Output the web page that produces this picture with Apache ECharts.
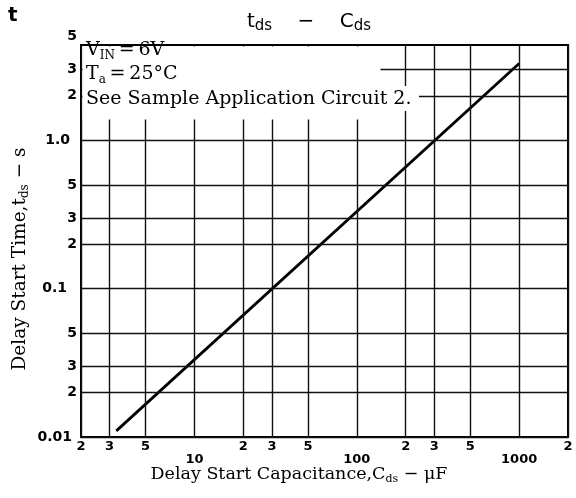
<!DOCTYPE html>
<html>
<head>
<meta charset="utf-8">
<script src="https://cdn.jsdelivr.net/npm/echarts@6/dist/echarts.min.js"></script>
<style>
  html, body { margin: 0; padding: 0; background: #fff; }
  #chart { width: 576px; height: 498px; }
</style>
</head>
<body>
<div id="chart"></div>
<script>
// Delay start time versus delay start capacitance (log-log)
const capacitance = [3.3, 1000];   // µF
const delayTime = [0.011, 3.3];    // s

// grid positions and their printed labels
const xTickValues = [2, 3, 5, 10, 20, 30, 50, 100, 200, 300, 500, 1000, 2000];
const xTickLabels = ['2', '3', '5', '10', '2', '3', '5', '100', '2', '3', '5', '1000', '2'];
const yTickValues = [0.01, 0.02, 0.03, 0.05, 0.1, 0.2, 0.3, 0.5, 1, 2, 3];
const yTickLabels = ['0.01', '2', '3', '5', '0.1', '2', '3', '5', '1.0', '2', '3'];
// the top label sits just above the frame
const yTopValue = 5;
const yTopLabel = '5';

const xMajor = [10, 100, 1000];
const yLabelGap = { 0.01: 9, 0.1: 14, 1: 11 };

const xFont = { color: '#000', fontFamily: 'DejaVu Sans', fontWeight: 'bold', fontSize: 13 };
const yFont = { color: '#000', fontFamily: 'DejaVu Sans', fontWeight: 'bold', fontSize: 14 };
const serif = 'DejaVu Serif';
const thin = '\u2009';

const chart = echarts.init(document.getElementById('chart'), null, { renderer: 'canvas' });

const gridLine = { color: '#111', width: 1.4, type: 'solid' };

const xLines = xTickValues.map((v, i) => ({
  xAxis: v,
  lineStyle: gridLine,
  label: Object.assign({
    show: true, position: 'start', formatter: xTickLabels[i],
    distance: xMajor.includes(v) ? 16 : 3
  }, xFont)
}));

const yLines = yTickValues.map((v, i) => ({
  yAxis: v,
  lineStyle: gridLine,
  label: Object.assign({
    show: true, position: 'start', formatter: yTickLabels[i],
    distance: yLabelGap[v] !== undefined ? yLabelGap[v] : 4
  }, yFont)
}));

function subText(main, sub, size, subSize) {
  return {
    text: main.map((m, i) => `{m|${m}}` + (sub[i] ? `{s|${sub[i]}}` : '')).join(''),
    rich: {
      m: { fontSize: size, fontFamily: serif, lineHeight: size + 4, color: '#000' },
      s: { fontSize: subSize, fontFamily: serif, lineHeight: subSize - 2, verticalAlign: 'bottom', color: '#000' }
    }
  };
}

const option = {
  animation: false,
  backgroundColor: '#fff',
  grid: {
    left: 81, right: 8, top: 45, bottom: 61,
    show: true, borderColor: '#000', borderWidth: 2, backgroundColor: '#fff'
  },
  xAxis: {
    type: 'log', logBase: 10, min: 2, max: 2000,
    axisLine: { show: false }, axisTick: { show: false },
    axisLabel: { show: false }, splitLine: { show: false }
  },
  yAxis: {
    type: 'log', logBase: 10, min: 0.01, max: 4.4,
    axisLine: { show: false }, axisTick: { show: false },
    axisLabel: { show: false }, splitLine: { show: false }
  },
  series: [
    {
      type: 'line',
      name: 'grid',
      data: [],
      z: 1,
      silent: true,
      markLine: {
        silent: true,
        symbol: ['none', 'none'],
        animation: false,
        data: xLines.concat(yLines)
      }
    },
    {
      type: 'line',
      name: 'tds',
      z: 3,
      data: capacitance.map((c, i) => [c, delayTime[i]]),
      symbol: 'none',
      lineStyle: { color: '#000', width: 2.8 }
    }
  ],
  graphic: [
    // clear area behind the conditions note
    { type: 'rect', z: 50, shape: { x: 82.5, y: 46.5, width: 298, height: 73 }, style: { fill: '#fff' } },
    { type: 'rect', z: 50, shape: { x: 380, y: 86, width: 39, height: 25 }, style: { fill: '#fff' } },
    {
      type: 'text', z: 60, x: 86, y: 39,
      style: subText(['V', thin + '=' + thin + '6V'], ['IN', ''], 19, 12)
    },
    {
      type: 'text', z: 60, x: 86, y: 63,
      style: subText(['T', thin + '=' + thin + '25°C'], ['a', ''], 19, 12)
    },
    {
      type: 'text', z: 60, x: 86, y: 90,
      style: { text: 'See Sample Application Circuit 2.', fontFamily: serif, fontSize: 19, fill: '#000' }
    },
    // chart title
    {
      type: 'text', z: 60, x: 309, y: 22,
      style: {
        text: '{m|t}{s|ds}{m|    −    C}{s|ds}',
        align: 'center', verticalAlign: 'middle',
        rich: {
          m: { fontSize: 20, fontFamily: 'DejaVu Sans', lineHeight: 24, color: '#000' },
          s: { fontSize: 15, fontFamily: 'DejaVu Sans', lineHeight: 14, verticalAlign: 'bottom', color: '#000' }
        }
      }
    },
    {
      type: 'text', z: 60, x: 8, y: 6,
      style: { text: 't', fontFamily: 'DejaVu Sans', fontWeight: 'bold', fontSize: 20, fill: '#000' }
    },
    // axis names
    {
      type: 'text', z: 60, x: 299, y: 474,
      style: Object.assign(subText(['Delay Start Capacitance,C', ' − μF'], ['ds', ''], 17.5, 11), { align: 'center', verticalAlign: 'middle' })
    },
    {
      type: 'text', z: 60, x: 20, y: 259, rotation: Math.PI / 2,
      style: Object.assign(subText(['Delay Start Time,t', ' − s'], ['ds', ''], 18.5, 12), { align: 'center', verticalAlign: 'middle' })
    }
  ]
};

chart.setOption(option);

// top tick label, placed through the y scale just above the frame
const topY = chart.convertToPixel({ yAxisIndex: 0 }, yTopValue);
chart.setOption({
  graphic: option.graphic.concat([{
    type: 'text', z: 60, x: 77, y: topY,
    style: Object.assign({ text: yTopLabel, align: 'right', verticalAlign: 'middle',
      fill: '#000', font: 'bold 14px "DejaVu Sans"' })
  }])
});
</script>
</body>
</html>
